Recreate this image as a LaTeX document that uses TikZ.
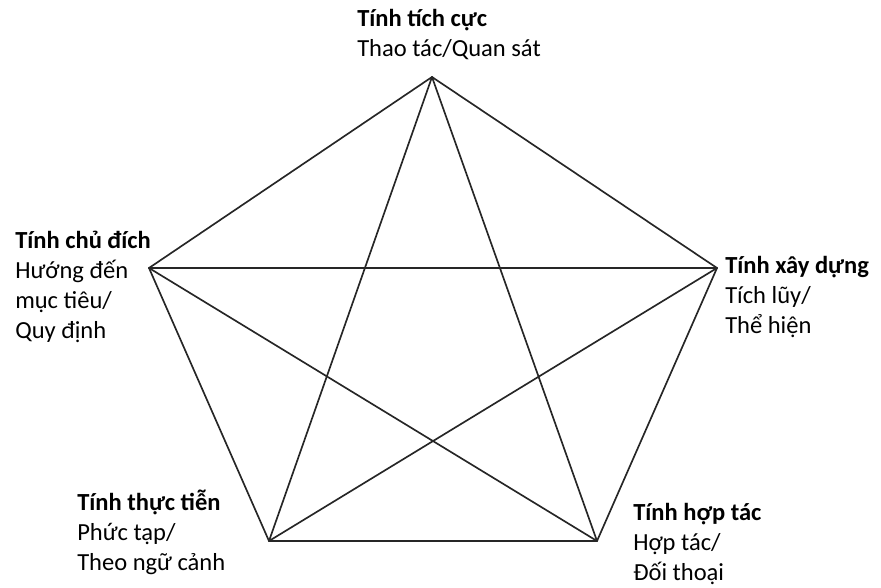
\documentclass[tikz,border=0pt]{standalone}
\usepackage{fontspec}
\setmainfont{Carlito}
\usetikzlibrary{positioning}

\begin{document}
\begin{tikzpicture}[
    x=0.75pt, y=-0.75pt,
    font=\fontsize{18.4}{22.5}\selectfont,
    edge/.style={line width=1.25pt, draw=black!85, line cap=round},
    txt/.style={anchor=base west, align=left, inner sep=0pt}
]
\useasboundingbox (0,0) rectangle (881,588);

% ── Corners of the pentagon ─────────────────────────────────
\coordinate (top) at (432,77);
\coordinate (lft) at (149,268);
\coordinate (rgt) at (717,268);
\coordinate (bl)  at (269,541);
\coordinate (br)  at (597,541);

% ── Texts at the corners (anchored on the last line) ───────
\node[txt] (ttop) at (357,57)  {\textbf{Tính tích cực}\\Thao tác/Quan sát};
\node[txt] (tlft) at (15,338)  {\textbf{Tính chủ đích}\\Hướng đến\\mục tiêu/\\Quy định};
\node[txt] (trgt) at (725,333) {\textbf{Tính xây dựng}\\Tích lũy/\\Thể hiện};
\node[txt] (tbl)  at (77,570)  {\textbf{Tính thực tiễn}\\Phức tạp/\\Theo ngữ cảnh};
\node[txt] (tbr)  at (633,580) {\textbf{Tính hợp tác}\\Hợp tác/\\Đối thoại};

% ── Sides and diagonals ─────────────────────────────────────
\foreach \a/\b in {top/lft, top/rgt, top/bl, top/br, lft/rgt,
                   lft/bl, lft/br, rgt/bl, rgt/br, bl/br}
    \draw[edge] (\a) -- (\b);

\end{tikzpicture}
\end{document}
